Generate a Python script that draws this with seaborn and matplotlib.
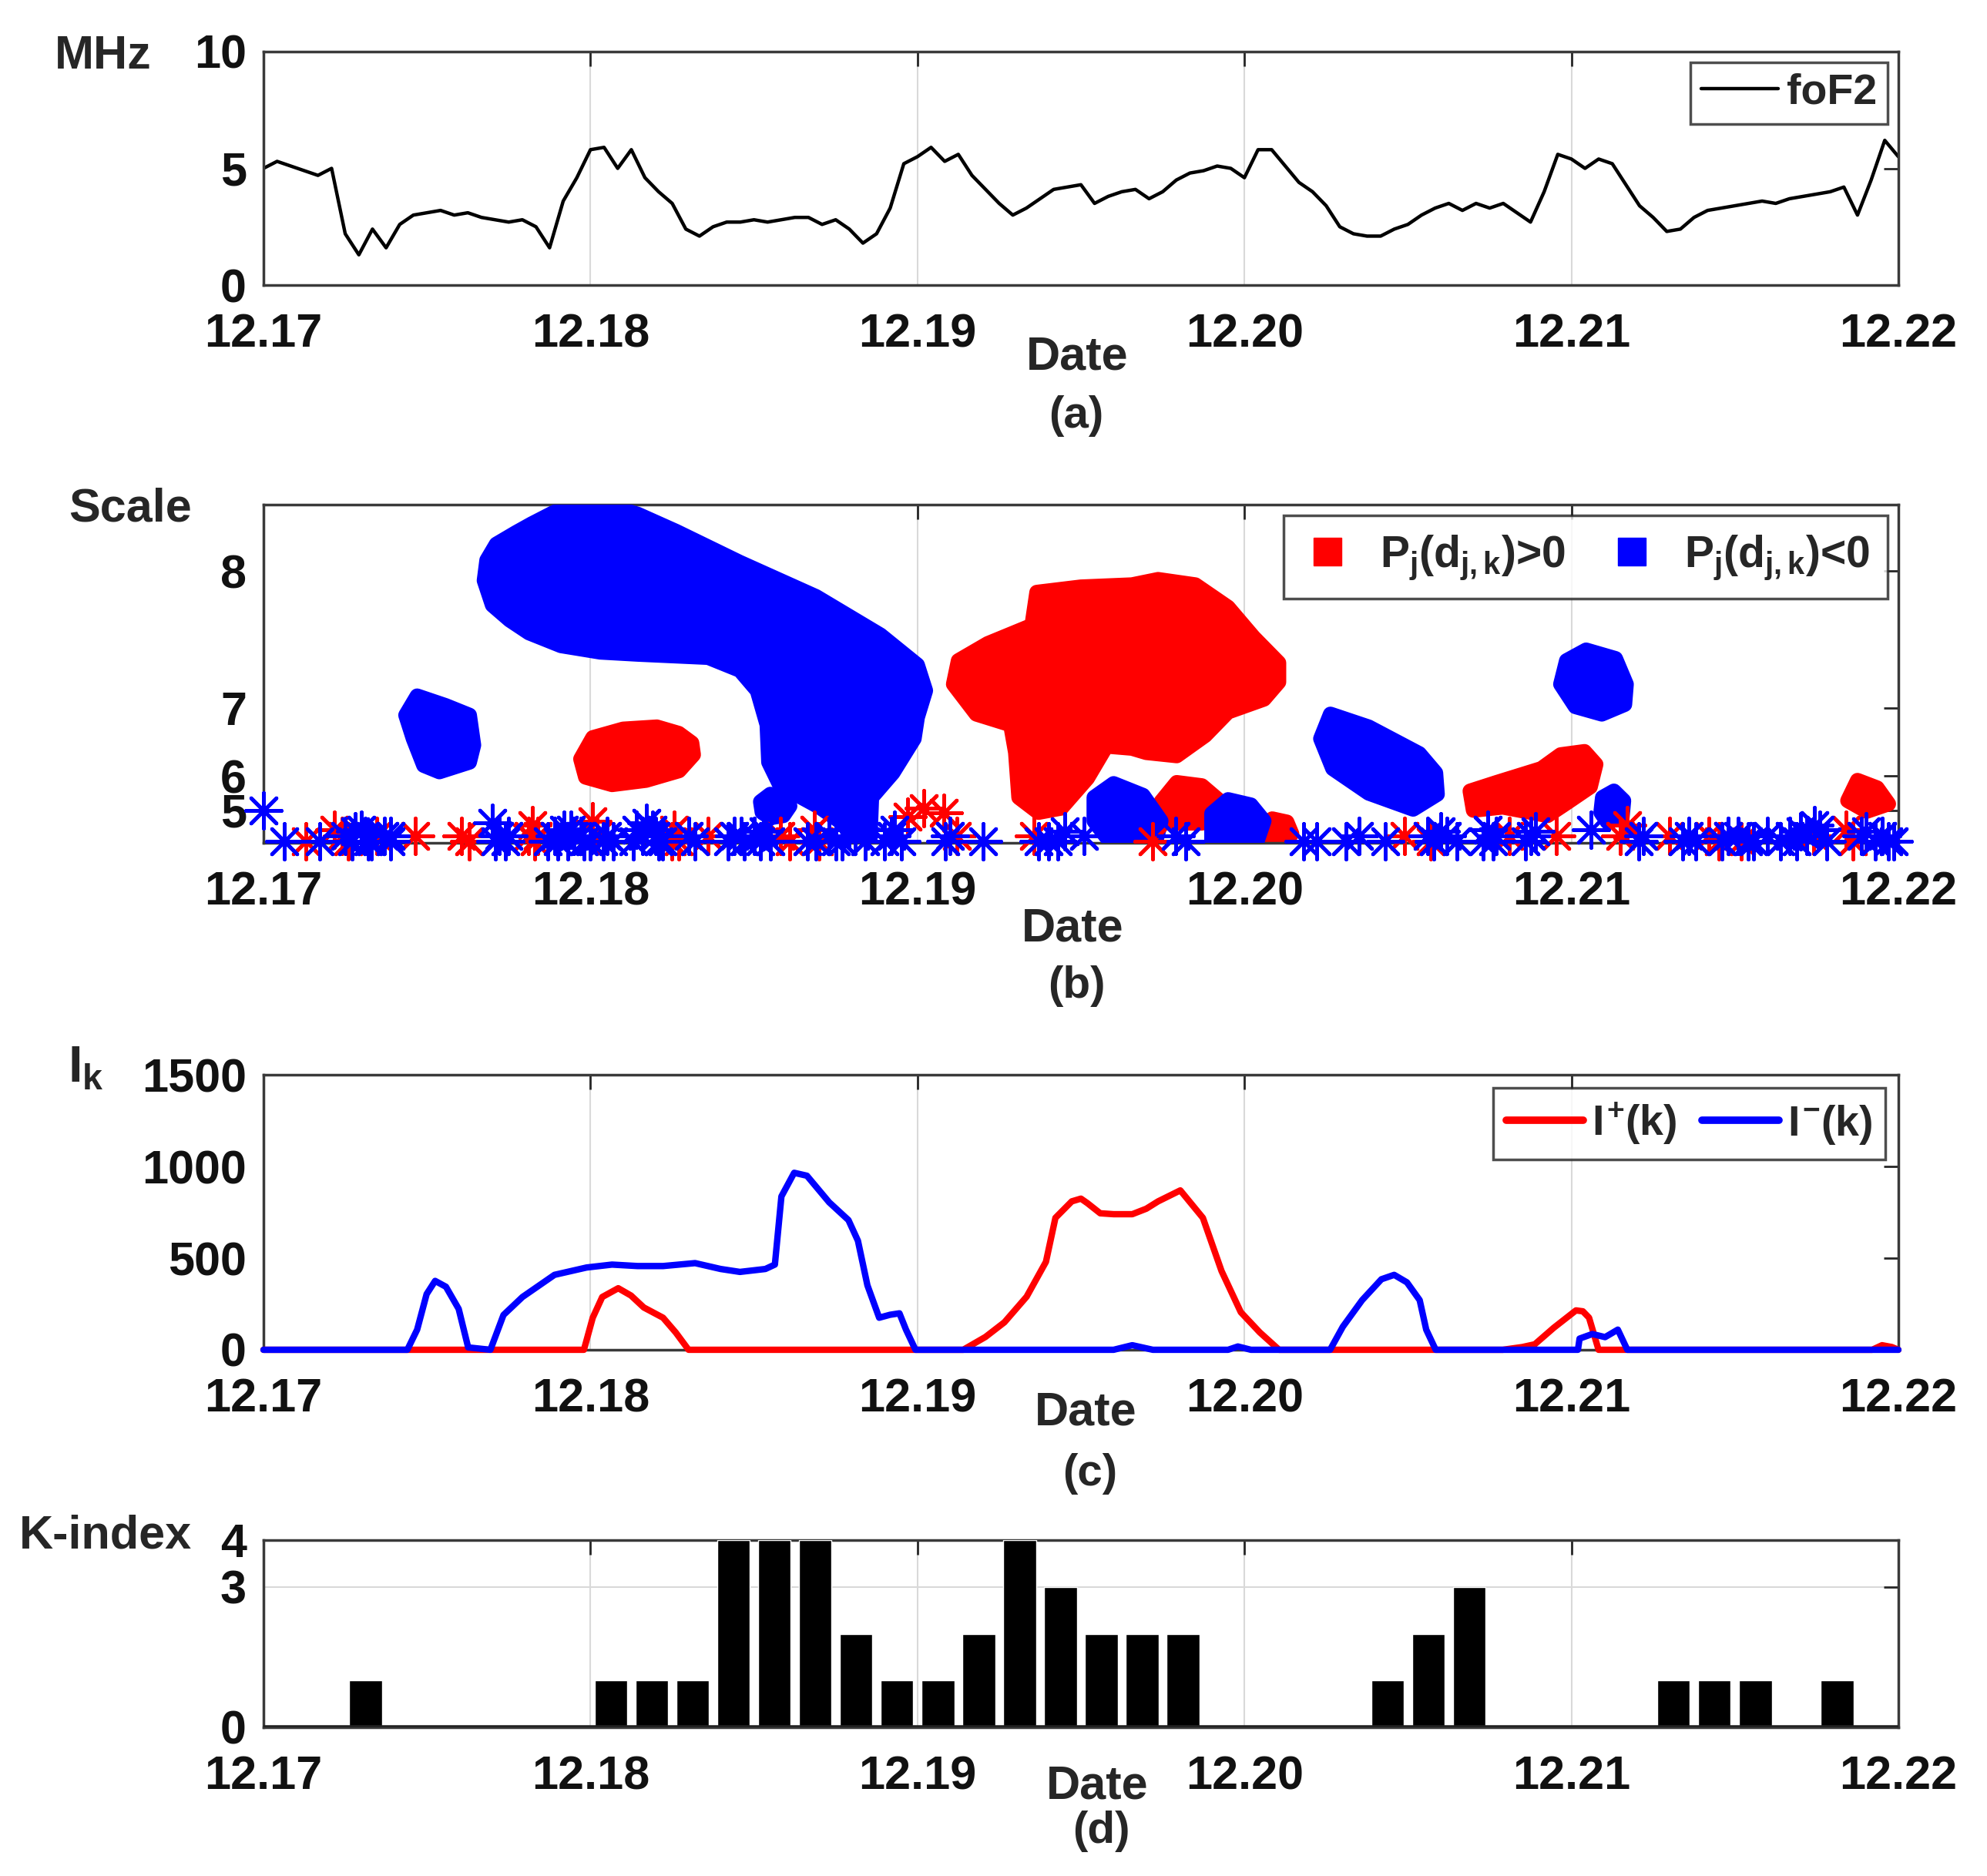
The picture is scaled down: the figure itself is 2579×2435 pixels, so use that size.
import numpy as np
import pandas as pd
import matplotlib
matplotlib.use("Agg")
import matplotlib.pyplot as plt
import seaborn as sns
from matplotlib.lines import Line2D

#----------------------------------------
# data
day_ticks = [0, 1, 2, 3, 4, 5]
day_labels = ["12.17", "12.18", "12.19", "12.20", "12.21", "12.22"]

# (a) foF2 in MHz, one value per hour
fof2_mhz = [5.0, 5.3, 5.1, 4.9, 4.7, 5.0, 2.2, 1.3, 2.4, 1.6, 2.6, 3.0, 3.1, 3.2, 3.0, 3.1,
            2.9, 2.8, 2.7, 2.8, 2.5, 1.6, 3.6, 4.6, 5.8, 5.9, 5.0, 5.8, 4.6, 4.0, 3.5, 2.4,
            2.1, 2.5, 2.7, 2.7, 2.8, 2.7, 2.8, 2.9, 2.9, 2.6, 2.8, 2.4, 1.8, 2.2, 3.3, 5.2,
            5.5, 5.9, 5.3, 5.6, 4.7, 4.1, 3.5, 3.0, 3.3, 3.7, 4.1, 4.2, 4.3, 3.5, 3.8, 4.0,
            4.1, 3.7, 4.0, 4.5, 4.8, 4.9, 5.1, 5.0, 4.6, 5.8, 5.8, 5.1, 4.4, 4.0, 3.4, 2.5,
            2.2, 2.1, 2.1, 2.4, 2.6, 3.0, 3.3, 3.5, 3.2, 3.5, 3.3, 3.5, 3.1, 2.7, 4.0, 5.6,
            5.4, 5.0, 5.4, 5.2, 4.3, 3.4, 2.9, 2.3, 2.4, 2.9, 3.2, 3.3, 3.4, 3.5, 3.6, 3.5,
            3.7, 3.8, 3.9, 4.0, 4.2, 3.0, 4.5, 6.2, 5.5]
fof2_day = np.arange(len(fof2_mhz)) / 24

# (b) wavelet scale, plotted as 2**j, labelled with j
scale_ticks = [32, 64, 128, 256]
scale_labels = ["5", "6", "7", "8"]

pos_blobs = [
    [(1.007, 100), (1.10, 108), (1.203, 110), (1.27, 104), (1.31, 95), (1.315, 84), (1.271, 69),
     (1.17, 60), (1.066, 56), (0.985, 63), (0.97, 80)],
    [(2.11, 150), (2.125, 172), (2.215, 188), (2.35, 205), (2.365, 236), (2.50, 241), (2.656, 243),
     (2.736, 248), (2.85, 243), (2.95, 222), (3.028, 194), (3.105, 170), (3.105, 152), (3.06, 136),
     (2.95, 124), (2.88, 102), (2.793, 83), (2.70, 86), (2.656, 90), (2.578, 92), (2.52, 62), (2.44, 34),
     (2.37, 30), (2.31, 44), (2.30, 86), (2.285, 112), (2.18, 122)],
    [(2.793, 58), (2.87, 55), (2.935, 38), (2.87, 20), (2.765, 20), (2.745, 40)],
    [(3.085, 24), (3.13, 21), (3.145, 10), (3.13, 4), (3.08, 4), (3.075, 12)],
    [(3.69, 50), (3.771, 58), (3.908, 71), (3.967, 84), (4.04, 87), (4.075, 75), (4.058, 54),
     (3.986, 39), (3.927, 27), (3.79, 35), (3.70, 32)],
    [(4.875, 60), (4.935, 53), (4.97, 38), (4.903, 31), (4.845, 41)],
]
neg_blobs = [
    [(1.047, 318), (0.95, 316), (0.89, 311), (0.82, 300), (0.773, 292), (0.712, 281), (0.683, 266),
     (0.675, 247), (0.70, 224), (0.753, 210), (0.812, 198), (0.91, 186), (1.03, 180), (1.145, 178),
     (1.36, 175), (1.457, 163), (1.51, 144), (1.54, 112), (1.545, 77), (1.58, 55), (1.70, 35),
     (1.775, 19), (1.80, 4), (1.855, 4), (1.86, 44), (1.925, 67), (1.99, 99), (2.0, 119), (2.025, 144),
     (2.0, 168), (1.887, 196), (1.69, 232), (1.457, 264), (1.262, 293), (1.145, 309)],
    [(0.47, 139), (0.557, 130), (0.63, 121), (0.643, 93), (0.63, 77), (0.538, 68), (0.49, 74),
     (0.458, 99), (0.435, 121)],
    [(1.52, 40), (1.55, 47), (1.59, 45), (1.61, 36), (1.59, 27), (1.55, 25), (1.525, 30)],
    [(2.6, 57), (2.69, 46), (2.745, 22), (2.73, 4), (2.585, 4), (2.54, 22), (2.54, 44)],
    [(2.95, 42), (3.02, 37), (3.06, 22), (3.04, 4), (2.90, 4), (2.90, 29)],
    [(3.263, 122), (3.38, 110), (3.535, 85), (3.585, 67), (3.59, 47), (3.516, 33), (3.38, 48),
     (3.27, 71), (3.233, 99)],
    [(4.045, 182), (4.135, 174), (4.168, 150), (4.163, 131), (4.093, 122), (4.012, 129), (3.967, 150),
     (3.985, 172)],
    [(4.095, 44), (4.13, 50), (4.16, 41), (4.155, 25), (4.11, 21), (4.09, 30)],
]

# asterisks along the small scales (day, 2**j)
pos_star_day = [0.13, 0.217, 0.24, 0.26, 0.347, 0.465, 0.606, 0.63, 0.81, 0.823, 0.83, 0.84, 1.007,
                1.02, 1.25, 1.255, 1.27, 1.36, 1.58, 1.61, 1.684, 1.70, 1.97, 2.02, 2.08, 2.12, 2.356,
                2.72, 3.49, 3.57, 3.81, 3.954, 4.15, 4.17, 4.30, 4.42, 4.45, 4.48, 4.52, 4.74, 4.84,
                4.86]
pos_star_scale = [3, 14, 8, 3, 8, 8, 8, 3, 8, 18, 3, 8, 22,
                  8, 3, 14, 3, 8, 8, 3, 14, 3, 26, 34, 30, 8, 8,
                  3, 8, 3, 8, 8, 8, 18, 8, 8, 3, 8, 3, 8, 14,
                  3]
neg_star_day = [0.0, 0.064, 0.172, 0.25, 0.27, 0.28, 0.30, 0.31, 0.32, 0.33, 0.37, 0.39, 0.39,
                0.70, 0.71, 0.72, 0.74, 0.75, 0.87, 0.89, 0.90, 0.92, 0.93, 0.94, 0.95, 0.97, 0.98,
                1.00, 1.04, 1.05, 1.07, 1.13, 1.14, 1.16, 1.17, 1.19, 1.20, 1.21, 1.22, 1.30, 1.32,
                1.42, 1.44, 1.46, 1.47, 1.50, 1.52, 1.53, 1.55, 1.663, 1.69, 1.73, 1.75, 1.77, 1.79,
                1.81, 1.84, 1.90, 1.92, 1.93, 1.95, 2.085, 2.10, 2.20, 2.37, 2.40, 2.43, 2.45, 2.51,
                2.79, 2.82, 3.18, 3.22, 3.31, 3.35, 3.43, 3.56, 3.58, 3.60, 3.62, 3.65, 3.73, 3.745,
                3.76, 3.77, 3.86, 3.875, 3.89, 4.06, 4.205, 4.22, 4.34, 4.36, 4.38, 4.46, 4.48, 4.51,
                4.54, 4.557, 4.60, 4.64, 4.667, 4.69, 4.70, 4.72, 4.743, 4.76, 4.78, 4.887, 4.90, 4.93,
                4.95, 4.97, 4.985]
neg_star_scale = [32, 3, 3, 8, 3, 12, 14, 8, 3, 3, 8, 8, 3,
                  20, 3, 8, 3, 8, 3, 8, 3, 14, 3, 14, 8, 8, 3,
                  3, 3, 8, 3, 3, 14, 8, 20, 14, 8, 3, 3, 8, 3,
                  3, 8, 8, 3, 8, 3, 12, 3, 3, 3, 8, 3, 3, 14,
                  8, 3, 3, 8, 14, 3, 3, 8, 3, 3, 3, 3, 12, 8,
                  8, 3, 3, 3, 3, 8, 3, 8, 3, 12, 8, 3, 3, 14,
                  3, 8, 3, 8, 12, 14, 3, 8, 3, 8, 3, 3, 8, 8,
                  3, 3, 8, 3, 8, 3, 12, 8, 18, 14, 3, 8, 12, 3,
                  8, 3, 3]

# (c) I+(k) and I-(k)
ip_day = [0.00, 0.98, 1.007, 1.036, 1.085, 1.124, 1.163, 1.222, 1.261, 1.30, 2.14, 2.208, 2.266,
          2.334, 2.393, 2.422, 2.472, 2.50, 2.52, 2.559, 2.60, 2.657, 2.70, 2.736, 2.804, 2.873,
          2.93, 2.989, 3.047, 3.106, 3.79, 3.85, 3.888, 3.946, 4.014, 4.035, 4.054, 4.083, 4.92,
          4.95, 4.98, 5.00]
ip_val = [0, 0, 175, 288, 336, 296, 231, 175, 94, 0, 0, 70, 150,
          290, 480, 720, 810, 825, 800, 745, 740, 740, 770, 810, 870, 720,
          430, 205, 95, 0, 0, 15, 30, 120, 215, 210, 175, 0, 0,
          25, 15, 0]
im_day = [0.00, 0.44, 0.47, 0.499, 0.525, 0.558, 0.597, 0.626, 0.694, 0.734, 0.792, 0.89, 0.988,
          1.066, 1.144, 1.222, 1.32, 1.398, 1.457, 1.535, 1.564, 1.584, 1.623, 1.662, 1.73, 1.789,
          1.818, 1.847, 1.883, 1.916, 1.945, 1.965, 1.994, 2.60, 2.657, 2.72, 2.95, 2.98, 3.02,
          3.262, 3.301, 3.36, 3.419, 3.458, 3.497, 3.536, 3.556, 3.585, 4.02, 4.025, 4.064, 4.103,
          4.142, 4.171, 5.00]
im_val = [0, 0, 110, 304, 376, 344, 223, 13, 0, 190, 288, 409, 449,
          465, 457, 457, 473, 441, 425, 441, 465, 837, 966, 950, 805, 708,
          595, 352, 175, 191, 199, 110, 0, 0, 25, 0, 0, 18, 0,
          0, 126, 271, 385, 409, 368, 271, 110, 0, 0, 61, 86, 69,
          110, 0, 0]

# (d) K-index, 3-hour bins
k_index = [0, 0, 1, 0, 0, 0, 0, 0,
           1, 1, 1, 4, 4, 4, 2, 1,
           1, 2, 4, 3, 2, 2, 2, 0,
           0, 0, 0, 1, 2, 3, 0, 0,
           0, 0, 1, 1, 1, 0, 1, 0]
k_day = (np.arange(len(k_index)) + 0.5) * 0.125

#----------------------------------------
# style
sns.set_theme(style="white")
plt.rcParams["font.family"] = ["Liberation Sans", "DejaVu Sans"]
plt.rcParams["font.weight"] = "bold"
plt.rcParams["mathtext.fontset"] = "custom"
plt.rcParams["mathtext.rm"] = "Liberation Sans:bold"
plt.rcParams["mathtext.it"] = "Liberation Sans:bold"
plt.rcParams["mathtext.bf"] = "Liberation Sans:bold"

RED = (1, 0, 0)
BLUE = (0, 0, 1)
FS = 44

fig = plt.figure(figsize=(25.79, 24.35), dpi=100)
left, width = 0.1326, 0.8228
ax_a = fig.add_axes([left, 0.848, width, 0.1245])
ax_b = fig.add_axes([left, 0.5507, width, 0.1803])
ax_c = fig.add_axes([left, 0.2805, width, 0.1465])
ax_d = fig.add_axes([left, 0.0793, width, 0.0997])


def style_axes(ax):
    ax.set_xlim(0, 5)
    ax.set_xticks(day_ticks)
    ax.set_xticklabels(day_labels)
    ax.set_xlabel("")
    ax.set_ylabel("")
    ax.grid(axis="x", color="#d9d9d9", lw=1.5)
    ax.set_axisbelow(True)
    ax.tick_params(axis="both", direction="in", length=14, width=2, color="#262626",
                   top=True, right=True, labelsize=FS, labelcolor="#111111")
    ax.tick_params(axis="x", pad=26)
    ax.tick_params(axis="y", pad=16)
    for lab in ax.get_xticklabels() + ax.get_yticklabels():
        lab.set_fontweight("bold")
    for sp in ax.spines.values():
        sp.set_color("#3a3a3a")
        sp.set_linewidth(2.5)
        sp.set_visible(True)


#----------------------------------------
# (a) foF2
sns.lineplot(x=fof2_day, y=fof2_mhz, color="black", linewidth=3.2, ax=ax_a, label="foF2")
ax_a.set_ylim(0, 10)
ax_a.set_yticks([0, 5, 10])
style_axes(ax_a)
leg = ax_a.legend(loc="upper right", fontsize=40, frameon=True, fancybox=False,
                  handlelength=1.8, handletextpad=0.2, borderpad=0.25, borderaxespad=0.25)
leg.get_frame().set_edgecolor("#222222")
leg.get_frame().set_linewidth(2.5)

#----------------------------------------
# (b) scale-date map
for poly in pos_blobs:
    xs, ys = zip(*poly)
    ax_b.fill(xs, ys, color=RED, lw=14, ec=RED, joinstyle="round", zorder=2)
for poly in neg_blobs:
    xs, ys = zip(*poly)
    ax_b.fill(xs, ys, color=BLUE, lw=14, ec=BLUE, joinstyle="round", zorder=3)
sns.scatterplot(x=pos_star_day, y=pos_star_scale, marker=(8, 2, 0), s=1100, color=RED,
                linewidth=3.5, edgecolor=RED, ax=ax_b, zorder=4, clip_on=False)
sns.scatterplot(x=neg_star_day, y=neg_star_scale, marker=(8, 2, 0), s=1100, color=BLUE,
                linewidth=3.5, edgecolor=BLUE, ax=ax_b, zorder=5, clip_on=False)
ax_b.set_ylim(1.5, 318)
ax_b.set_yticks(scale_ticks)
ax_b.set_yticklabels(scale_labels)
style_axes(ax_b)
handles = [Line2D([], [], ls="", marker="s", ms=26, color=RED),
           Line2D([], [], ls="", marker="s", ms=26, color=BLUE)]
leg = ax_b.legend(handles, [r"$P_j(d_{j,k})$>0", r"$P_j(d_{j,k})$<0"], loc="upper right",
                  ncol=2, fontsize=41, frameon=True, fancybox=False, handlelength=1.2,
                  handletextpad=0.6, columnspacing=0.9, borderpad=0.4, borderaxespad=0.25)
leg.get_frame().set_edgecolor("#222222")
leg.get_frame().set_linewidth(2.5)

#----------------------------------------
# (c) I+(k), I-(k)
sns.lineplot(x=ip_day, y=ip_val, color=RED, linewidth=6, ax=ax_c, clip_on=False, zorder=3)
sns.lineplot(x=im_day, y=im_val, color=BLUE, linewidth=6, ax=ax_c, clip_on=False, zorder=4)
ax_c.set_ylim(0, 1500)
ax_c.set_yticks([0, 500, 1000, 1500])
style_axes(ax_c)
handles = [Line2D([], [], color=RED, lw=7), Line2D([], [], color=BLUE, lw=7)]
leg = ax_c.legend(handles, [r"$I^{+}(k)$", r"$I^{-}(k)$"], loc="upper right", ncol=2,
                  fontsize=40, frameon=True, fancybox=False, handlelength=1.8,
                  handletextpad=0.2, columnspacing=0.6, borderpad=0.3, borderaxespad=0.3)
leg.get_frame().set_edgecolor("#222222")
leg.get_frame().set_linewidth(2.5)

#----------------------------------------
# (d) K-index
sns.barplot(x=k_day, y=k_index, native_scale=True, color="black", saturation=1,
            width=0.8, ax=ax_d, zorder=3)
ax_d.set_ylim(0, 4)
ax_d.set_yticks([0, 3, 4])
style_axes(ax_d)
ax_d.grid(axis="y", color="#d9d9d9", lw=1.5)
ax_d.axhline(0, color="#222222", lw=4, zorder=4)

#----------------------------------------
# labels
fig.text(0.052, 0.970, "MHz", fontsize=44, fontweight="bold", ha="center", va="center")
fig.text(0.0657, 0.7285, "Scale", fontsize=44, fontweight="bold", ha="center", va="center")
fig.text(0.0433, 0.430, r"$I_k$", fontsize=48, ha="center", va="center")
fig.text(0.053, 0.181, "K-index", fontsize=44, fontweight="bold", ha="center", va="center")

for xx, yy in [(0.542, 0.8095), (0.540, 0.5047), (0.5466, 0.2468), (0.5524, 0.0476)]:
    fig.text(xx, yy, "Date", fontsize=44, fontweight="bold", ha="center", va="center")
for xx, yy, tag in [(0.5415, 0.7784, "(a)"), (0.542, 0.4744, "(b)"),
                    (0.5485, 0.2143, "(c)"), (0.5543, 0.0238, "(d)")]:
    fig.text(xx, yy, tag, fontsize=42, fontweight="bold", ha="center", va="center")

fig.savefig("out.png", dpi=100, facecolor="white")
